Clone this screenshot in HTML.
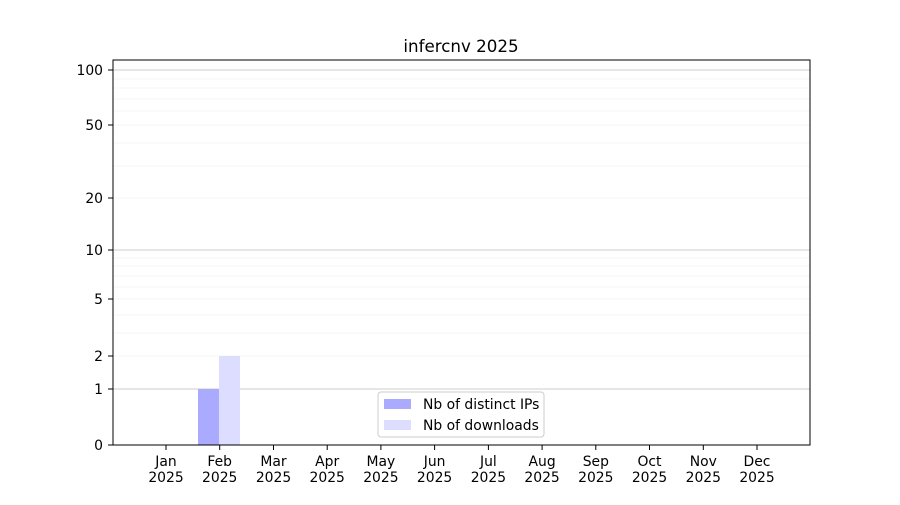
<!DOCTYPE html>
<html><head><style>body{margin:0;background:#fff}</style></head><body>
<svg width="900" height="500" xmlns="http://www.w3.org/2000/svg" font-family="DejaVu Sans, Liberation Sans, sans-serif">
<rect width="900" height="500" fill="#fff"/>
<g stroke="#f0f0f0" stroke-width="0.8">
<line x1="113" x2="810" y1="333" y2="333"/><line x1="113" x2="810" y1="315" y2="315"/>
<line x1="113" x2="810" y1="287" y2="287"/><line x1="113" x2="810" y1="276" y2="276"/>
<line x1="113" x2="810" y1="266" y2="266"/><line x1="113" x2="810" y1="258" y2="258"/>
<line x1="113" x2="810" y1="166" y2="166"/><line x1="113" x2="810" y1="143" y2="143"/>
<line x1="113" x2="810" y1="111" y2="111"/><line x1="113" x2="810" y1="99" y2="99"/>
<line x1="113" x2="810" y1="88" y2="88"/><line x1="113" x2="810" y1="79" y2="79"/>
<line x1="113" x2="810" y1="356" y2="356"/><line x1="113" x2="810" y1="299" y2="299"/>
<line x1="113" x2="810" y1="198" y2="198"/><line x1="113" x2="810" y1="125" y2="125"/>
</g>
<g stroke="#cccccc" stroke-width="1">
<line x1="113" x2="810" y1="389" y2="389"/><line x1="113" x2="810" y1="250" y2="250"/><line x1="113" x2="810" y1="70" y2="70"/>
</g>
<rect x="198" y="389" width="21" height="56" fill="#aaaaff"/>
<rect x="219" y="356" width="21" height="89" fill="#ddddff"/>
<rect x="113" y="60" width="697" height="385" fill="none" stroke="#000" stroke-width="1"/>
<g stroke="#000"><line x1="108" x2="113" y1="445" y2="445"/><line x1="108" x2="113" y1="389" y2="389"/><line x1="108" x2="113" y1="356" y2="356"/><line x1="108" x2="113" y1="299" y2="299"/><line x1="108" x2="113" y1="250" y2="250"/><line x1="108" x2="113" y1="198" y2="198"/><line x1="108" x2="113" y1="125" y2="125"/><line x1="108" x2="113" y1="70" y2="70"/></g>
<g font-size="13.9" text-anchor="end"><text x="103" y="450">0</text><text x="103" y="394">1</text><text x="103" y="361">2</text><text x="103" y="304">5</text><text x="103" y="255">10</text><text x="103" y="203">20</text><text x="103" y="130">50</text><text x="103" y="75">100</text></g>
<g font-size="13.9" text-anchor="middle">
<text x="166" y="466">Jan</text><text x="166" y="482">2025</text>
<text x="219.7" y="466">Feb</text><text x="219.7" y="482">2025</text>
<text x="273.5" y="466">Mar</text><text x="273.5" y="482">2025</text>
<text x="327.2" y="466">Apr</text><text x="327.2" y="482">2025</text>
<text x="380.9" y="466">May</text><text x="380.9" y="482">2025</text>
<text x="434.6" y="466">Jun</text><text x="434.6" y="482">2025</text>
<text x="488.4" y="466">Jul</text><text x="488.4" y="482">2025</text>
<text x="542.1" y="466">Aug</text><text x="542.1" y="482">2025</text>
<text x="595.8" y="466">Sep</text><text x="595.8" y="482">2025</text>
<text x="649.5" y="466">Oct</text><text x="649.5" y="482">2025</text>
<text x="703.3" y="466">Nov</text><text x="703.3" y="482">2025</text>
<text x="757" y="466">Dec</text><text x="757" y="482">2025</text>
</g>
<g stroke="#000">
<line x1="166" x2="166" y1="445" y2="450"/><line x1="219.7" x2="219.7" y1="445" y2="450"/><line x1="273.5" x2="273.5" y1="445" y2="450"/><line x1="327.2" x2="327.2" y1="445" y2="450"/><line x1="380.9" x2="380.9" y1="445" y2="450"/><line x1="434.6" x2="434.6" y1="445" y2="450"/><line x1="488.4" x2="488.4" y1="445" y2="450"/><line x1="542.1" x2="542.1" y1="445" y2="450"/><line x1="595.8" x2="595.8" y1="445" y2="450"/><line x1="649.5" x2="649.5" y1="445" y2="450"/><line x1="703.3" x2="703.3" y1="445" y2="450"/><line x1="757" x2="757" y1="445" y2="450"/>
</g>
<text x="461" y="52" font-size="16.7" text-anchor="middle">infercnv 2025</text>
<rect x="378" y="392" width="166" height="45" rx="3" fill="#fff" fill-opacity="0.8" stroke="#cccccc"/>
<rect x="384" y="399" width="27" height="10" fill="#aaaaff"/>
<rect x="384" y="420" width="27" height="10" fill="#ddddff"/>
<text x="423" y="409" font-size="13.9">Nb of distinct IPs</text>
<text x="423" y="430" font-size="13.9">Nb of downloads</text>
</svg>
</body></html>
